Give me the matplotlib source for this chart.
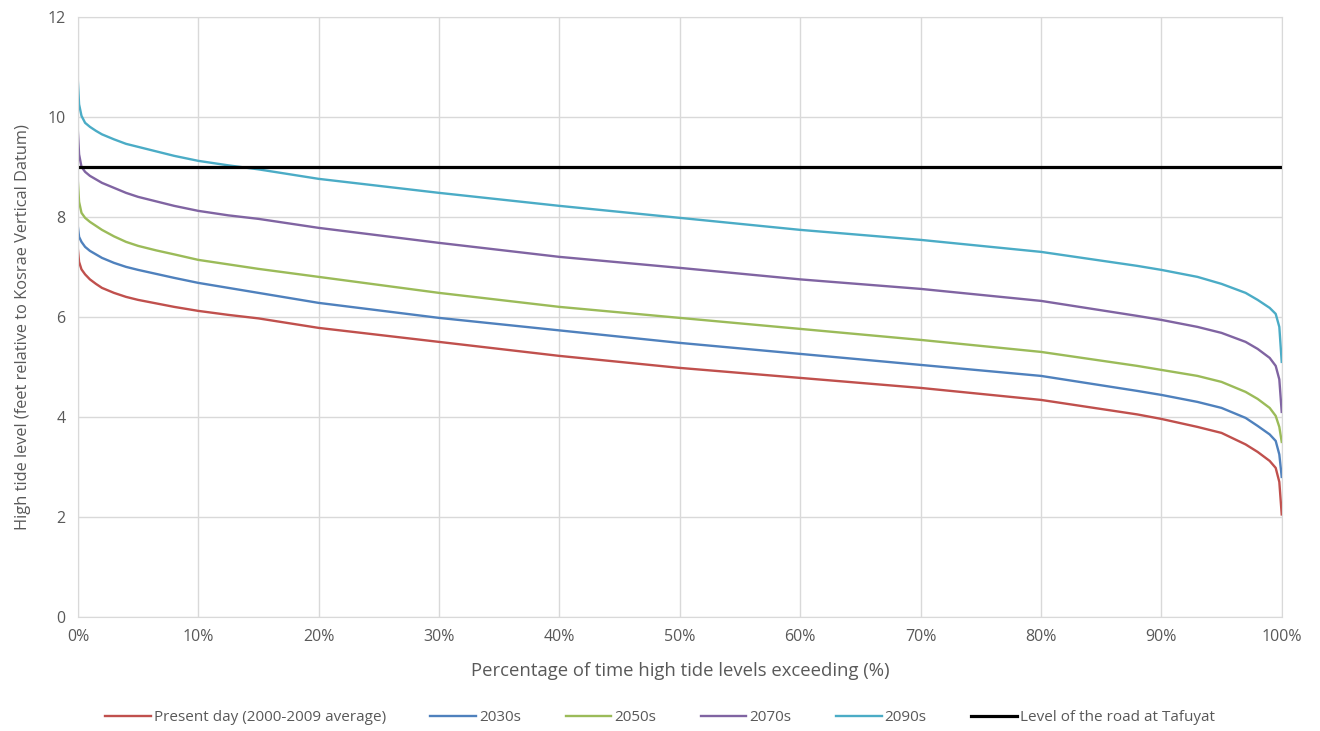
import matplotlib
matplotlib.use('Agg')
import matplotlib.pyplot as plt

# percentage of time exceeded (%)
pct = [0, 0.1, 0.3, 0.6, 1, 1.5, 2, 3, 4, 5, 6.5, 8, 10, 12.5, 15, 20, 30, 40, 50, 60, 70, 80,
       88, 90, 93, 95, 97, 98, 99, 99.5, 99.8, 100]

present = [7.35, 7.1, 6.95, 6.85, 6.75, 6.66, 6.58, 6.48, 6.4, 6.34, 6.27, 6.2, 6.12, 6.04,
           5.97, 5.78, 5.5, 5.22, 4.98, 4.78, 4.58, 4.34, 4.05, 3.96, 3.8, 3.68, 3.45, 3.3,
           3.12, 2.98, 2.7, 2.05]
s2030 = [7.8, 7.6, 7.5, 7.4, 7.32, 7.25, 7.18, 7.08, 7.0, 6.94, 6.86, 6.78, 6.68, 6.58,
         6.48, 6.28, 5.98, 5.73, 5.48, 5.26, 5.04, 4.82, 4.52, 4.44, 4.3, 4.18, 3.98, 3.82,
         3.65, 3.52, 3.25, 2.8]
s2050 = [8.7, 8.3, 8.08, 7.98, 7.9, 7.82, 7.74, 7.61, 7.5, 7.42, 7.33, 7.25, 7.14, 7.05,
         6.96, 6.8, 6.48, 6.2, 5.98, 5.76, 5.54, 5.3, 5.02, 4.94, 4.82, 4.7, 4.5, 4.36,
         4.18, 4.02, 3.8, 3.5]
s2070 = [9.7, 9.25, 9.0, 8.9, 8.82, 8.75, 8.68, 8.58, 8.48, 8.4, 8.31, 8.22, 8.12, 8.03,
         7.96, 7.78, 7.48, 7.2, 6.98, 6.75, 6.56, 6.32, 6.02, 5.94, 5.8, 5.68, 5.5, 5.36,
         5.18, 5.02, 4.75, 4.1]
s2090 = [10.7, 10.25, 10.02, 9.88, 9.8, 9.72, 9.65, 9.55, 9.46, 9.4, 9.31, 9.22, 9.12, 9.03,
         8.95, 8.76, 8.48, 8.22, 7.98, 7.74, 7.54, 7.3, 7.02, 6.94, 6.8, 6.66, 6.48, 6.34,
         6.18, 6.06, 5.8, 5.1]
road_level = 9.0

series = [
    ("Present day (2000-2009 average)", present, "#C0504D"),
    ("2030s", s2030, "#4F81BD"),
    ("2050s", s2050, "#9BBB59"),
    ("2070s", s2070, "#8064A2"),
    ("2090s", s2090, "#4BACC6"),
]

plt.rcParams['font.family'] = ['Open Sans', 'DejaVu Sans']
txt = '#595959'

fig = plt.figure(figsize=(13.2, 7.31), dpi=100)
ax = fig.add_axes([0.059, 0.156, 0.912, 0.821])

for name, vals, col in series:
    ax.plot(pct, vals, color=col, lw=1.7, label=name)
ax.plot([0, 100], [road_level, road_level], color='black', lw=2.3,
        label="Level of the road at Tafuyat")

ax.set_xlim(0, 100)
ax.set_ylim(0, 12)
ax.set_xticks(range(0, 101, 10))
ax.set_xticklabels([f"{v}%" for v in range(0, 101, 10)])
ax.set_yticks(range(0, 13, 2))
ax.grid(True, color='#d9d9d9', lw=1)
ax.set_axisbelow(True)
for sp in ax.spines.values():
    sp.set_color('#d9d9d9')
ax.tick_params(length=0, colors=txt, labelsize=11.5, pad=9)

ax.set_xlabel("Percentage of time high tide levels exceeding (%)", color=txt,
              fontsize=13.3, labelpad=12)
ax.set_ylabel("High tide level (feet relative to Kosrae Vertical Datum)", color=txt,
              fontsize=11.8)
ax.yaxis.set_label_coords(-0.039, 0.483)

leg = fig.legend(loc='center', bbox_to_anchor=(0.5, 0.018), ncol=6, frameon=False,
                 fontsize=11, handlelength=3.0, handletextpad=0.2, columnspacing=2.9)
for t in leg.get_texts():
    t.set_color(txt)

fig.savefig("out.png", dpi=100)
